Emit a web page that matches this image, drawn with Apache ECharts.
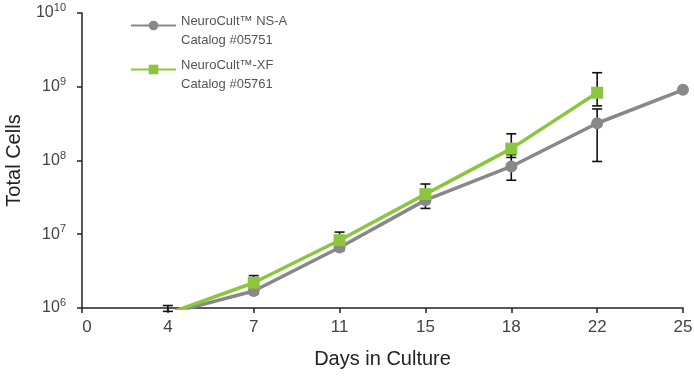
<!DOCTYPE html>
<html>
<head>
<meta charset="utf-8">
<script src="https://cdn.jsdelivr.net/npm/echarts@6/dist/echarts.min.js"></script>
<style>
  html, body { margin: 0; padding: 0; background: #fff; }
  #chart { width: 694px; height: 376px; }
</style>
</head>
<body>
<div id="chart"></div>
<script>
  // days on the x axis (evenly spaced, like the original)
  var days = ['0', '4', '7', '11', '15', '18', '22', '25']

  // NeuroCult NS-A (grey circles)
  var nsaName = 'NeuroCult™ NS-A'
  var nsaCatalog = 'Catalog #05751'
  var nsaValues = [null, 8.4e5, 1.7e6, 6.6e6, 2.9e7, 8.3e7, 3.2e8, 9.1e8]
  var nsaLow = [null, 0.9e6, 1.55e6, 6.0e6, 2.24e7, 5.4e7, 9.7e7, null]
  var nsaHigh = [null, 1.08e6, 1.9e6, 7.5e6, 3.4e7, 1.2e8, 5.0e8, null]

  // NeuroCult-XF (green squares)
  var xfName = 'NeuroCult™-XF'
  var xfCatalog = 'Catalog #05761'
  var xfValues = [null, 8.4e5, 2.2e6, 8.3e6, 3.5e7, 1.45e8, 8.3e8, null]
  var xfLow = [null, null, 1.9e6, 7.0e6, 3.0e7, 1.1e8, 5.5e8, null]
  var xfHigh = [null, null, 2.75e6, 1.07e7, 4.8e7, 2.3e8, 1.55e9, null]

  var grey = '#888888'
  var green = '#8cc63f'
  var font = 'Liberation Sans'

  function errData(low, high) {
    var out = []
    for (var i = 0; i < low.length; i++) {
      if (low[i] != null && high[i] != null) out.push([i, low[i], high[i]])
    }
    return out
  }

  function renderErr(params, api) {
    var lo = api.coord([api.value(0), api.value(1)])
    var hi = api.coord([api.value(0), api.value(2)])
    var w = 5
    var style = { stroke: '#111', lineWidth: 1.6 }
    return {
      type: 'group',
      children: [
        { type: 'line', shape: { x1: lo[0], y1: lo[1], x2: hi[0], y2: hi[1] }, style: style },
        { type: 'line', shape: { x1: lo[0] - w, y1: lo[1], x2: lo[0] + w, y2: lo[1] }, style: style },
        { type: 'line', shape: { x1: hi[0] - w, y1: hi[1], x2: hi[0] + w, y2: hi[1] }, style: style }
      ]
    }
  }

  var chart = echarts.init(document.getElementById('chart'))

  var option = {
    animation: false,
    backgroundColor: '#fff',
    textStyle: { fontFamily: font },
    grid: { left: 82, right: 11, top: 13, bottom: 68, outerBoundsMode: 'none' },
    legend: {
      orient: 'vertical',
      left: 130,
      top: 0,
      padding: 0,
      itemWidth: 45,
      itemHeight: 12,
      itemGap: -3,
      data: [nsaName, xfName],
      formatter: function (name) {
        var cat = name === nsaName ? nsaCatalog : xfCatalog
        return '{g|}\n{t|' + name + '}\n{t|' + cat + '}'
      },
      textStyle: {
        fontFamily: font,
        fontSize: 13,
        color: '#555',
        rich: {
          g: { height: 11, lineHeight: 11 },
          t: { fontFamily: font, fontSize: 13, color: '#555', lineHeight: 19 }
        }
      }
    },
    xAxis: {
      type: 'category',
      data: days,
      boundaryGap: false,
      name: 'Days in Culture',
      nameLocation: 'middle',
      nameGap: 41,
      nameTextStyle: { fontFamily: font, fontSize: 20, color: '#222' },
      axisLine: { lineStyle: { color: '#222', width: 1.5 } },
      axisTick: { alignWithLabel: true, length: 5, lineStyle: { color: '#222', width: 1.5 } },
      axisLabel: {
        fontFamily: font,
        fontSize: 17,
        color: '#444',
        margin: 11,
        // the first label sits a little right of the y axis in the original
        formatter: function (v, i) {
          return i === 0 ? '{z|' + v + '}' : v
        },
        rich: {
          z: { fontFamily: font, fontSize: 17, color: '#444', padding: [0, 0, 0, 10] }
        }
      },
      splitLine: { show: false }
    },
    yAxis: {
      type: 'log',
      logBase: 10,
      min: 1e6,
      max: 1e10,
      name: 'Total Cells',
      nameLocation: 'middle',
      nameGap: 58,
      nameTextStyle: { fontFamily: font, fontSize: 20, color: '#222' },
      axisLine: { show: true, lineStyle: { color: '#222', width: 1.5 } },
      axisTick: { show: true, length: 5, lineStyle: { color: '#222', width: 1.5 } },
      splitLine: { show: false },
      axisLabel: {
        margin: 16,
        formatter: function (v) {
          return '{b|10}{e|' + Math.round(Math.log10(v)) + '}'
        },
        rich: {
          b: { fontFamily: font, fontSize: 16, color: '#444' },
          e: { fontFamily: font, fontSize: 11, color: '#444', padding: [0, 0, 10, 0] }
        }
      }
    },
    series: [
      {
        type: 'custom',
        name: 'errNsa',
        data: errData(nsaLow, nsaHigh),
        encode: { x: 0, y: [1, 2] },
        renderItem: renderErr,
        z: 1
      },
      {
        type: 'custom',
        name: 'errXf',
        data: errData(xfLow, xfHigh),
        encode: { x: 0, y: [1, 2] },
        renderItem: renderErr,
        z: 1
      },
      {
        name: nsaName,
        type: 'line',
        data: nsaValues,
        symbol: 'circle',
        symbolSize: 12,
        lineStyle: { color: grey, width: 3.5 },
        itemStyle: { color: grey },
        z: 3
      },
      {
        name: xfName,
        type: 'line',
        data: xfValues,
        symbol: 'rect',
        symbolSize: 12,
        lineStyle: { color: green, width: 3.5 },
        itemStyle: { color: green },
        z: 4
      }
    ]
  }

  chart.setOption(option)
</script>
</body>
</html>
